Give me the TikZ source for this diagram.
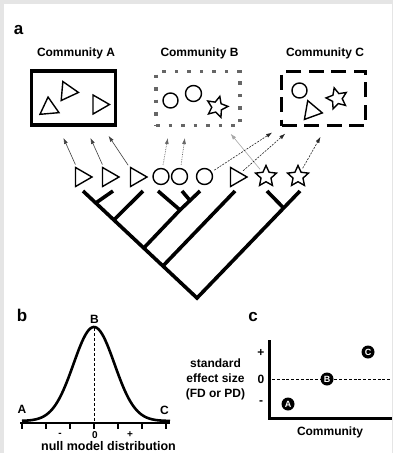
\documentclass[tikz,border=0pt]{standalone}
\usepackage{fontspec}
\setmainfont{Liberation Sans}
\usepackage{tikz}
\usetikzlibrary{arrows.meta}
\usetikzlibrary{shapes.geometric}
\usetikzlibrary{calc}

\begin{document}
\begin{tikzpicture}[x=1pt,y=-1pt,>={Latex[length=6pt,width=4pt]},thick,font=\bfseries\fontsize{12}{14}\selectfont]
      \tikzstyle{tri} = [regular polygon, regular polygon sides=3, shape border rotate=-90, draw, line width=1.4pt, minimum size=22pt, inner sep=0pt]
      \tikzstyle{ball} = [circle, draw, line width=1.4pt, minimum size=15pt, inner sep=0pt]
      \tikzstyle{spiky} = [star, star points=5, star point ratio=2.1, draw, line width=1.4pt, minimum size=22pt, inner sep=0pt]
      \tikzstyle{community} = [draw, minimum width=84pt, minimum height=54pt, inner sep=0pt]
      \tikzstyle{branch} = [line width=3.6pt]
      \tikzstyle{to A} = [->, line width=0.6pt, color=black!75, shorten <=3pt, shorten >=1pt]
      \tikzstyle{to B} = [->, line width=0.7pt, densely dotted, color=black!60, shorten <=3pt, shorten >=1pt]
      \tikzstyle{to C} = [->, line width=0.6pt, dash pattern=on 2pt off 1.2pt, color=black!85, shorten <=3pt, shorten >=1pt]
      \tikzstyle{panel} = [font=\bfseries\fontsize{17}{19}\selectfont]
      \tikzstyle{tick label} = [font=\bfseries\fontsize{10}{12}\selectfont, inner sep=1pt]
      \tikzstyle{dot} = [circle, fill=black, minimum size=13pt, inner sep=0pt, text=white, font=\bfseries\fontsize{9}{10}\selectfont]
      % frame
      \fill[black!10] (0,0) rectangle (393,453);
      \fill[white] (4,4) rectangle (392,453);
      \useasboundingbox (0,0) rectangle (393,453);
      %nodes
      \node[panel] (lbla) at (18.5,30) {a};
      \node (titleA) at (76,53) {Community A};
      \node (titleB) at (199.5,53) {Community B};
      \node (titleC) at (325,53) {Community C};
      \node[community, line width=3.5pt] (boxA) at (73.5,98) {};
      \node[community, line width=3.5pt, color=black!60, dash pattern=on 3.5pt off 9pt] (boxB) at (198,98.5) {};
      \node[community, line width=3.8pt, dash pattern=on 15pt off 7.5pt] (boxC) at (323.5,98.5) {};
      % members
      \node[tri, shape border rotate=5] (mA1) at (49,108) {};
      \node[tri, shape border rotate=-95] (mA2) at (67.5,91.5) {};
      \node[tri] (mA3) at (98.5,104.5) {};
      \node[ball] (mB1) at (170.5,100.5) {};
      \node[ball, minimum size=16pt] (mB2) at (193.5,93.5) {};
      \node[spiky, shape border rotate=-15] (mB3) at (217,107) {};
      \node[ball] (mC1) at (299.5,90.5) {};
      \node[spiky, shape border rotate=15] (mC2) at (337,98.5) {};
      \node[tri, shape border rotate=-100] (mC3) at (311.5,111) {};
      % leaves
      \node[tri]   (t1) at (81,177) {};
      \node[tri]   (t2) at (108,177) {};
      \node[tri]   (t3) at (136,177) {};
      \node[ball, minimum size=16pt] (o1) at (161,176.5) {};
      \node[ball, minimum size=16pt] (o2) at (179.5,176.5) {};
      \node[ball, minimum size=16pt] (o3) at (204.5,176.5) {};
      \node[tri]   (t4) at (236,177) {};
      \node[spiky] (s1) at (266,176.5) {};
      \node[spiky] (s2) at (298,176.5) {};
      % arrow heads
      \coordinate (hA1) at (63,137);
      \coordinate (hA2) at (90,137);
      \coordinate (hA3) at (108,135);
      \coordinate (hB1) at (168,137);
      \coordinate (hB2) at (185,137);
      \coordinate (hB3) at (230,133);
      \coordinate (hC1) at (273,132);
      \coordinate (hC2) at (286,133);
      \coordinate (hC3) at (321,136);
      %lines
      \draw[to A] (t1) -- (hA1);
      \draw[to A] (t2) -- (hA2);
      \draw[to A] (t3) -- (hA3);
      \draw[to B] (o1) -- (hB1);
      \draw[to B] (o2) -- (hB2);
      \draw[to A, color=black!35] (s1) -- (hB3);
      \draw[to C] (o3) -- (hC1);
      \draw[to C] (t4) -- (hC2);
      \draw[to C] (s2) -- (hC3);
      % tree
      \coordinate (root) at (197,298);
      \coordinate (tip1) at (83,191);
      \coordinate (tip2) at (113,191);
      \coordinate (tip3) at (143,191);
      \coordinate (tip4) at (158,191);
      \coordinate (tip5) at (182,191);
      \coordinate (tip6) at (200,191);
      \coordinate (tip7) at (235,191);
      \coordinate (tip8) at (267,191);
      \coordinate (tip9) at (300,191);
      \coordinate (n1) at ($(root)!0.888!(tip1)$);
      \coordinate (n2) at ($(root)!0.729!(tip1)$);
      \coordinate (n3) at ($(root)!0.467!(tip1)$);
      \coordinate (n4) at ($(root)!0.299!(tip1)$);
      \coordinate (n5) at ($(root)!0.841!(tip9)$);
      \coordinate (c1) at (180,210);
      \coordinate (c2) at ($(c1)!0.5!(tip6)$);
      \draw[branch] (tip1) -- (root) -- (tip9);
      \draw[branch] (n1) -- (tip2);
      \draw[branch] (n2) -- (tip3);
      \draw[branch] (n3) -- (c1) -- (tip6);
      \draw[branch] (c1) -- (tip4);
      \draw[branch] (c2) -- (tip5);
      \draw[branch] (n4) -- (tip7);
      \draw[branch] (n5) -- (tip8);
      % panel b
      \node[panel] (lblb) at (22,315) {b};
      \draw[line width=2.4pt] (20,423) coordinate (axL) -- (170,423) coordinate (axR);
      \foreach \t in {22,46,70,94,118,142,166}
        \draw[line width=1.4pt] (\t,423) -- (\t,428.5);
      \draw[line width=2.6pt] plot[domain=22:170, samples=90] (\x, {421-94*exp(-((\x-94)^2)/(2*20.5^2))});
      \coordinate (peak) at (94,328);
      \draw[densely dashed, line width=0.7pt] (peak) -- (94,423);
      \node (lA) at (22,409.5) {A};
      \node (lB) at (94.5,319) {B};
      \node (lC) at (164.5,410) {C};
      \node[tick label] (minus) at (60,435) {-};
      \node[tick label] (zero) at (95,435) {0};
      \node[tick label] (plus) at (130,435) {+};
      \node[font=\bfseries\fontsize{12.5}{15}\selectfont, inner sep=1pt] (nulldist) at (108.5,446.5) {null model distribution};
      % panel c
      \node[panel] (lblc) at (253,317) {c};
      \draw[line width=3pt] (269,340) -- (269,418) -- (392,418);
      \node (cplus) at (261,353) {+};
      \node (czero) at (261,379.5) {0};
      \node (cminus) at (261,403) {-};
      \node[align=center, font=\bfseries\fontsize{12}{15}\selectfont] (ses) at (215.5,379) {standard\\effect size\\(FD or PD)};
      \coordinate (dL) at (272,379);
      \coordinate (dR) at (390,379);
      \draw[dashed, dash pattern=on 3pt off 1.8pt, line width=1pt] (dL) -- (dR);
      \node[dot] (dA) at (288,404) {A};
      \node[dot] (dB) at (327,379) {B};
      \node[dot] (dC) at (368,352) {C};
      \node (commx) at (330,432) {Community};
\end{tikzpicture}
\end{document}
